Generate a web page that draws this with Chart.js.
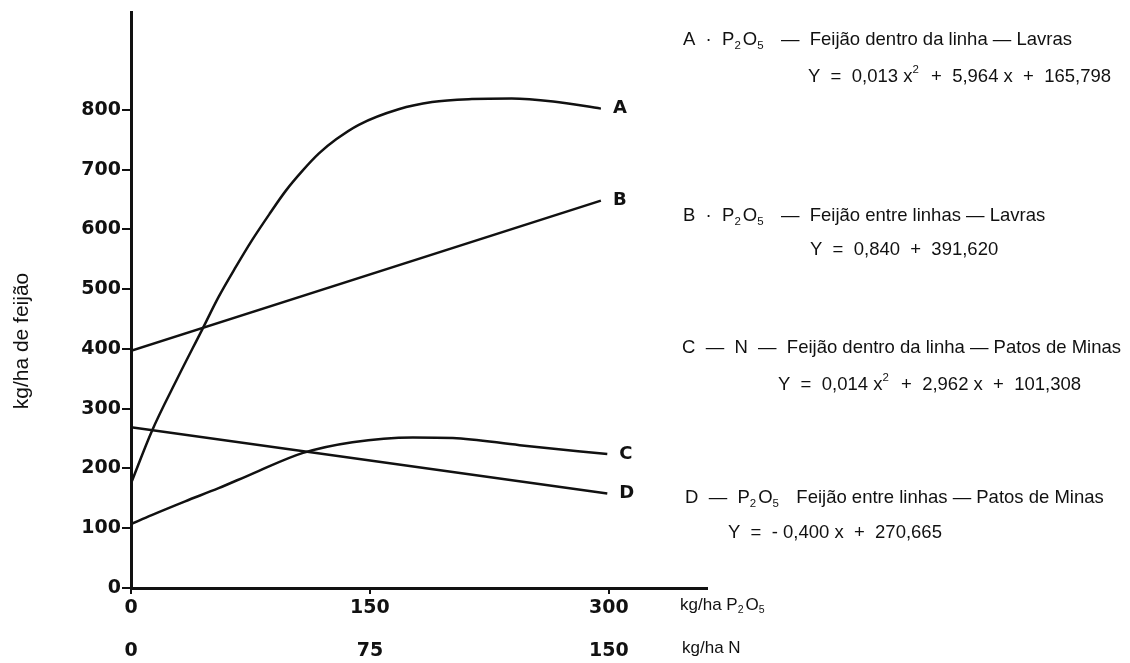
<!DOCTYPE html>
<html>
<head>
<meta charset="utf-8">
<script src="https://cdn.jsdelivr.net/npm/chart.js@4.4.1/dist/chart.umd.min.js"></script>
<style>
  html, body { margin: 0; padding: 0; background: #fff; }
  #wrap { width: 1130px; height: 663px; }
</style>
</head>
<body>
<div id="wrap"><canvas id="chart" width="1130" height="663"></canvas></div>
<script>
// tick labels
const yTicks = [0, 100, 200, 300, 400, 500, 600, 700, 800];
const xTicksP2O5 = [0, 150, 300];
const xTicksN = [0, 75, 150];

// curves (x in kg/ha P2O5 scale, y in kg/ha de feijão)
const seriesNames = ['A', 'B', 'C', 'D'];
const aX = [0, 13, 29, 45, 55, 66, 76, 87, 97, 108, 118, 129, 143, 168, 189, 214, 239, 265, 295];
const aY = [175, 262, 350, 434, 487, 538, 582, 626, 664, 699, 727, 751, 775, 801, 813, 818, 819, 814, 802];
const bX = [0, 295];
const bY = [397, 648];
const cX = [0, 13, 34, 55, 76, 108, 139, 177, 202, 244, 299];
const cY = [107, 122, 145, 167, 191, 226, 244, 252, 251, 239, 224];
const dX = [0, 299];
const dY = [269, 158];

// legend text, [text, mode] with mode '', 'sub' or 'sup'
const legendA1 = [['A  ·  P', ''], ['2', 'sub'], ['O', ''], ['5', 'sub'], ['   —  Feijão dentro da linha — Lavras', '']];
const legendA2 = [['Y  =  0,013 x', ''], ['2', 'sup'], ['  +  5,964 x  +  165,798', '']];
const legendB1 = [['B  ·  P', ''], ['2', 'sub'], ['O', ''], ['5', 'sub'], ['   —  Feijão entre linhas — Lavras', '']];
const legendB2 = [['Y  =  0,840  +  391,620', '']];
const legendC1 = [['C  —  N  —  Feijão dentro da linha — Patos de Minas', '']];
const legendC2 = [['Y  =  0,014 x', ''], ['2', 'sup'], ['  +  2,962 x  +  101,308', '']];
const legendD1 = [['D  —  P', ''], ['2', 'sub'], ['O', ''], ['5', 'sub'], ['   Feijão entre linhas — Patos de Minas', '']];
const legendD2 = [['Y  =  - 0,400 x  +  270,665', '']];
const unitP2O5 = [['kg/ha P', ''], ['2', 'sub'], ['O', ''], ['5', 'sub']];
const unitN = [['kg/ha N', '']];
const yTitle = 'kg/ha de feijão';

const xMax = 361.6;
const yMax = 963;

function pts(xs, ys) {
  return xs.map((x, i) => ({ x: x, y: ys[i] }));
}

function drawRich(ctx, x, y, parts, size, weight) {
  let cx = x;
  parts.forEach(([t, mode]) => {
    let s = size, dy = 0;
    if (mode === 'sub') { s = size * 0.62; dy = size * 0.32; }
    if (mode === 'sup') { s = size * 0.62; dy = -size * 0.38; }
    ctx.font = (weight || 'normal') + ' ' + s + 'px "Liberation Sans"';
    ctx.fillText(t, cx, y + dy);
    cx += ctx.measureText(t).width + (mode ? 2 : 0);
  });
}

const textPlugin = {
  id: 'texts',
  afterDraw(chart) {
    const ctx = chart.ctx;
    const xs = chart.scales.x, ys = chart.scales.y;
    ctx.save();
    ctx.fillStyle = '#111';
    ctx.textBaseline = 'middle';
    ctx.textAlign = 'left';

    // line labels at the end of each curve
    ctx.font = 'bold 18px "DejaVu Sans"';
    chart.data.datasets.forEach((ds, i) => {
      const last = ds.data[ds.data.length - 1];
      ctx.fillText(seriesNames[i], xs.getPixelForValue(last.x) + 12, ys.getPixelForValue(last.y));
    });

    // legend block
    drawRich(ctx, 683, 40, legendA1, 18.5);
    drawRich(ctx, 808, 77, legendA2, 18.5);
    drawRich(ctx, 683, 216, legendB1, 18.5);
    drawRich(ctx, 810, 250, legendB2, 18.5);
    drawRich(ctx, 682, 348, legendC1, 18.5);
    drawRich(ctx, 778, 385, legendC2, 18.5);
    drawRich(ctx, 685, 498, legendD1, 18.5);
    drawRich(ctx, 728, 533, legendD2, 18.5);

    // axis units
    drawRich(ctx, 680, 605, unitP2O5, 17);
    drawRich(ctx, 682, 648, unitN, 17);

    // y axis title
    ctx.translate(22, 341);
    ctx.rotate(-Math.PI / 2);
    ctx.textAlign = 'center';
    ctx.font = '21px "Liberation Sans"';
    ctx.fillText(yTitle, 0, 0);
    ctx.restore();
  }
};

const lineStyle = {
  borderColor: '#111',
  borderWidth: 2.5,
  pointRadius: 0,
  showLine: true,
  fill: false
};

new Chart(document.getElementById('chart'), {
  type: 'scatter',
  data: {
    datasets: [
      Object.assign({ label: 'A', data: pts(aX, aY), cubicInterpolationMode: 'monotone' }, lineStyle),
      Object.assign({ label: 'B', data: pts(bX, bY) }, lineStyle),
      Object.assign({ label: 'C', data: pts(cX, cY), cubicInterpolationMode: 'monotone' }, lineStyle),
      Object.assign({ label: 'D', data: pts(dX, dY) }, lineStyle)
    ]
  },
  options: {
    responsive: false,
    animation: false,
    layout: { padding: { left: 0, top: 10, right: 1130 - 707, bottom: 0 } },
    plugins: { legend: { display: false }, tooltip: { enabled: false } },
    scales: {
      x: {
        type: 'linear',
        position: 'bottom',
        min: 0,
        max: xMax,
        afterBuildTicks: s => { s.ticks = xTicksP2O5.map(v => ({ value: v })); },
        afterFit: s => { s.height = 38; },
        border: { color: '#111', width: 3 },
        grid: { drawOnChartArea: false, drawTicks: true, tickLength: 6, color: '#111', lineWidth: 2 },
        ticks: { color: '#111', padding: 3, maxRotation: 0, font: { family: 'DejaVu Sans', size: 19, weight: 'bold' } }
      },
      xN: {
        type: 'linear',
        position: 'bottom',
        min: 0,
        max: xMax / 2,
        afterBuildTicks: s => { s.ticks = xTicksN.map(v => ({ value: v })); },
        afterFit: s => { s.height = 37; },
        border: { display: false },
        grid: { display: false },
        ticks: { color: '#111', padding: 6, maxRotation: 0, font: { family: 'DejaVu Sans', size: 19, weight: 'bold' } }
      },
      y: {
        min: 0,
        max: yMax,
        afterBuildTicks: s => { s.ticks = yTicks.map(v => ({ value: v })); },
        afterFit: s => { s.width = 131; },
        border: { color: '#111', width: 3 },
        grid: { drawOnChartArea: false, drawTicks: true, tickLength: 9, color: '#111', lineWidth: 2 },
        ticks: { color: '#111', padding: 1, font: { family: 'DejaVu Sans', size: 19, weight: 'bold' } }
      }
    }
  },
  plugins: [textPlugin]
});
</script>
</body>
</html>
